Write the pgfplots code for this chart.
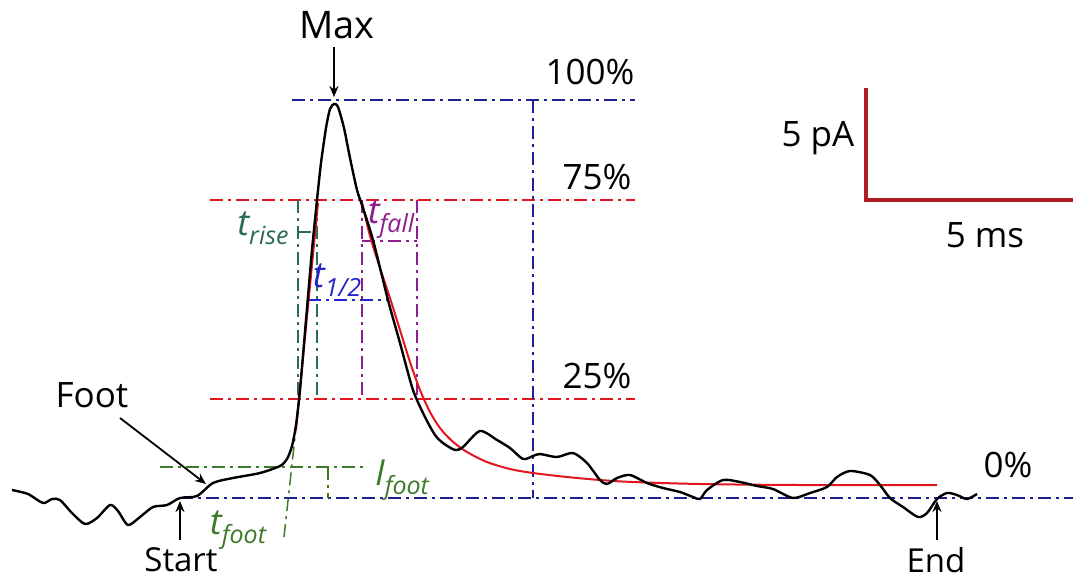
\documentclass[border=0pt]{standalone}
\usepackage{pgfplots}
\pgfplotsset{compat=1.18}
\usepackage{fontspec}
\setmainfont{Open Sans}
\usetikzlibrary{arrows.meta}
\definecolor{refblue}{HTML}{1E1E96}
\definecolor{refred}{HTML}{E3151E}
\definecolor{teal}{HTML}{2A6B5A}
\definecolor{halfblue}{HTML}{2323C8}
\definecolor{purp}{HTML}{8E1E8E}
\definecolor{gfoot}{HTML}{3D7A2A}
\definecolor{bar}{HTML}{B01E23}
\pgfplotstableread{
x y
12 490
28 494
43 503
52 499
60 500
72 513
85 524
97 518
110 505
118 511
128 525
140 517
153 507
167 505
180 498
197 496
213 483
233 478
260 473
280 466
287 459
292 446
296 425
300 390
306 320
312 250
317 200
321 163
326 128
330 109
334 104
338 107
344 128
350 158
357 190
362 205
373 240
388 300
400 343
413 390
425 417
435 435
443 443
455 450
463 447
480 431
497 440
510 448
523 459
533 456
540 454
557 457
573 453
587 463
600 480
607 484
617 478
630 475
647 483
663 488
680 492
693 497
700 499
707 490
723 480
740 482
757 486
773 489
793 498
810 493
827 487
837 477
850 471
870 475
880 485
890 498
903 507
918 517
927 513
937 499
947 493
957 495
967 499
977 494
}\trace
\pgfplotstableread{
x y
362 202
370 236
380 268
390 298
400 330
410 362
420 390
430 412
440 428
452 441
467 452
487 462
510 469
533 473
567 477
600 480
633 482
700 484
800 485
937 485
}\fall
\begin{document}
\begin{tikzpicture}
\tikzset{dd/.style={line width=0.75pt, dash pattern=on 6.5pt off 2.5pt on 1.5pt off 2.5pt}}
\begin{axis}[
  width=536.5pt, height=290pt, scale only axis,
  xmin=0, xmax=1073, ymin=0, ymax=580, y dir=reverse,
  hide axis, clip=false,
  every axis plot/.append style={mark=none},
]
% reference lines
\addplot[dd, refblue] coordinates {(292,100) (635,100)};
\addplot[dd, refred] coordinates {(210,200) (635,200)};
\addplot[dd, refred] coordinates {(210,399) (635,399)};
\addplot[dd, refblue] coordinates {(180,498) (1073,498)};
\addplot[dd, refblue] coordinates {(533,100) (533,498)};
% foot
\addplot[dd, gfoot] coordinates {(160,467) (368,467)};
\addplot[dd, gfoot] coordinates {(328,467) (328,498)};
\addplot[dd, gfoot] coordinates {(284,537) (298,410)};
% t rise
\addplot[dd, teal] coordinates {(298,200) (298,399)};
\addplot[dd, teal] coordinates {(317,200) (317,399)};
\addplot[dd, teal] coordinates {(298,232) (313,232)};
% t half
\addplot[dd, halfblue] coordinates {(308,300) (388,300)};
% t fall
\addplot[dd, purp] coordinates {(362,200) (362,399)};
\addplot[dd, purp] coordinates {(417,200) (417,399)};
\addplot[dd, purp] coordinates {(362,241) (417,241)};
% fits
\addplot[refred, line width=1pt] coordinates {(296,430) (318,203)};
\addplot[refred, line width=1pt, smooth, tension=0.5] table[x=x,y=y] {\fall};
% trace
\addplot[black, line width=1.2pt, smooth, tension=0.45] table[x=x,y=y] {\trace};
% scale bar
\addplot[bar, line width=2pt] coordinates {(866,88) (866,200) (1073,200)};
% arrows
\draw[-{Stealth[length=5.5pt,width=4.5pt]}, line width=0.9pt] (axis cs:334,47) -- (axis cs:334,97);
\draw[-{Stealth[length=5.5pt,width=4.5pt]}, line width=0.9pt] (axis cs:180,540) -- (axis cs:180,501);
\draw[-{Stealth[length=5.5pt,width=4.5pt]}, line width=0.9pt] (axis cs:937,540) -- (axis cs:937,501);
\draw[-{Stealth[length=5.5pt,width=4.5pt]}, line width=0.9pt] (axis cs:120,418) -- (axis cs:206,484);
% labels
\tikzset{lb/.style={font=\fontsize{17.5}{20}\selectfont, inner sep=0pt}}
\node[lb, font=\fontsize{19}{22}\selectfont] at (axis cs:337,25) {Max};
\node[lb] at (axis cs:590,72) {100\%};
\node[lb] at (axis cs:597,177) {75\%};
\node[lb] at (axis cs:597,376) {25\%};
\node[lb] at (axis cs:1008,465) {0\%};
\node[lb] at (axis cs:818,138) {5 pA};
\node[lb] at (axis cs:985,235) {5 ms};
\node[lb] at (axis cs:92,395) {Foot};
\node[lb, font=\fontsize{16.5}{19}\selectfont] at (axis cs:181,560) {Start};
\node[lb, font=\fontsize{16.5}{19}\selectfont] at (axis cs:936,560) {End};
\tikzset{sb/.style={inner sep=0pt, font=\fontsize{18}{20}\selectfont\itshape}}
\newcommand{\sub}[1]{\raisebox{-0.45ex}{\fontsize{12.5}{13}\selectfont\itshape #1}}
\node[sb, text=teal] at (axis cs:263,228) {t\sub{rise}};
\node[sb, text=halfblue] at (axis cs:337,280) {t\sub{1/2}};
\node[sb, text=purp] at (axis cs:391,219) {t\sub{fall}};
\node[sb, text=gfoot] at (axis cs:402,480) {I\sub{foot}};
\node[sb, text=gfoot] at (axis cs:238,530) {t\sub{foot}};
\end{axis}
\pgfresetboundingbox
\path[use as bounding box] (current axis.south west) rectangle (current axis.north east);
\end{tikzpicture}
\end{document}
